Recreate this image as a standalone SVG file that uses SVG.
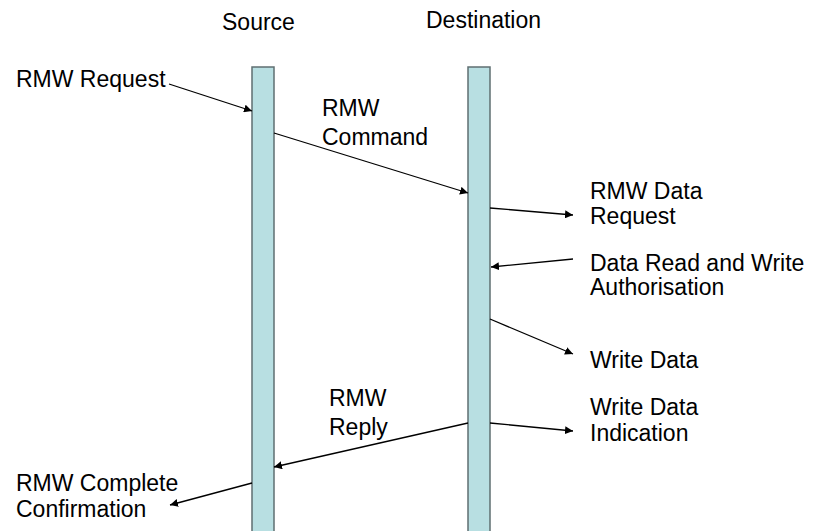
<svg xmlns="http://www.w3.org/2000/svg" width="817" height="531" viewBox="0 0 817 531">
<style>
text{font-family:"Liberation Sans",Arial,sans-serif;font-size:23px;fill:#000}
.bar{fill:#b8dfe2;stroke:#5f6f71;stroke-width:1.5}
.msg{stroke:#000;stroke-width:1.3;fill:none;marker-end:url(#ah)}
</style>
<defs>
<marker id="ah" viewBox="0 0 10 10" refX="10" refY="5" markerWidth="8" markerHeight="8" markerUnits="userSpaceOnUse" orient="auto">
<path d="M0,0 L10,5 L0,10 z" fill="#000"/>
</marker>
</defs>
<rect width="817" height="531" fill="#fff"/>
<g id="source">
<rect class="bar" x="252" y="67" width="22" height="470"/>
<text x="222" y="30">Source</text>
</g>
<g id="destination">
<rect class="bar" x="468" y="67" width="22" height="470"/>
<text x="426" y="28">Destination</text>
</g>
<g id="labels">
<text x="16" y="87">RMW Request</text>
<text x="322" y="116">RMW</text>
<text x="322" y="145">Command</text>
<text x="590" y="199">RMW Data</text>
<text x="590" y="224">Request</text>
<text x="590" y="271">Data Read and Write</text>
<text x="590" y="295">Authorisation</text>
<text x="590" y="368">Write Data</text>
<text x="590" y="415">Write Data</text>
<text x="590" y="441">Indication</text>
<text x="329" y="406">RMW</text>
<text x="329" y="435">Reply</text>
<text x="16" y="491">RMW Complete</text>
<text x="16" y="517">Confirmation</text>
</g>
<g id="connectors">
<line class="msg" x1="169" y1="84" x2="252" y2="111"/>
<line class="msg" x1="274" y1="133" x2="468" y2="193"/>
<line class="msg" x1="490" y1="208" x2="573" y2="215"/>
<line class="msg" x1="573" y1="259" x2="491" y2="267"/>
<line class="msg" x1="490" y1="319" x2="573" y2="354"/>
<line class="msg" x1="490" y1="423" x2="573" y2="431"/>
<line class="msg" x1="468" y1="423" x2="274" y2="467"/>
<line class="msg" x1="252" y1="483" x2="170" y2="505"/>
</g>
</svg>
